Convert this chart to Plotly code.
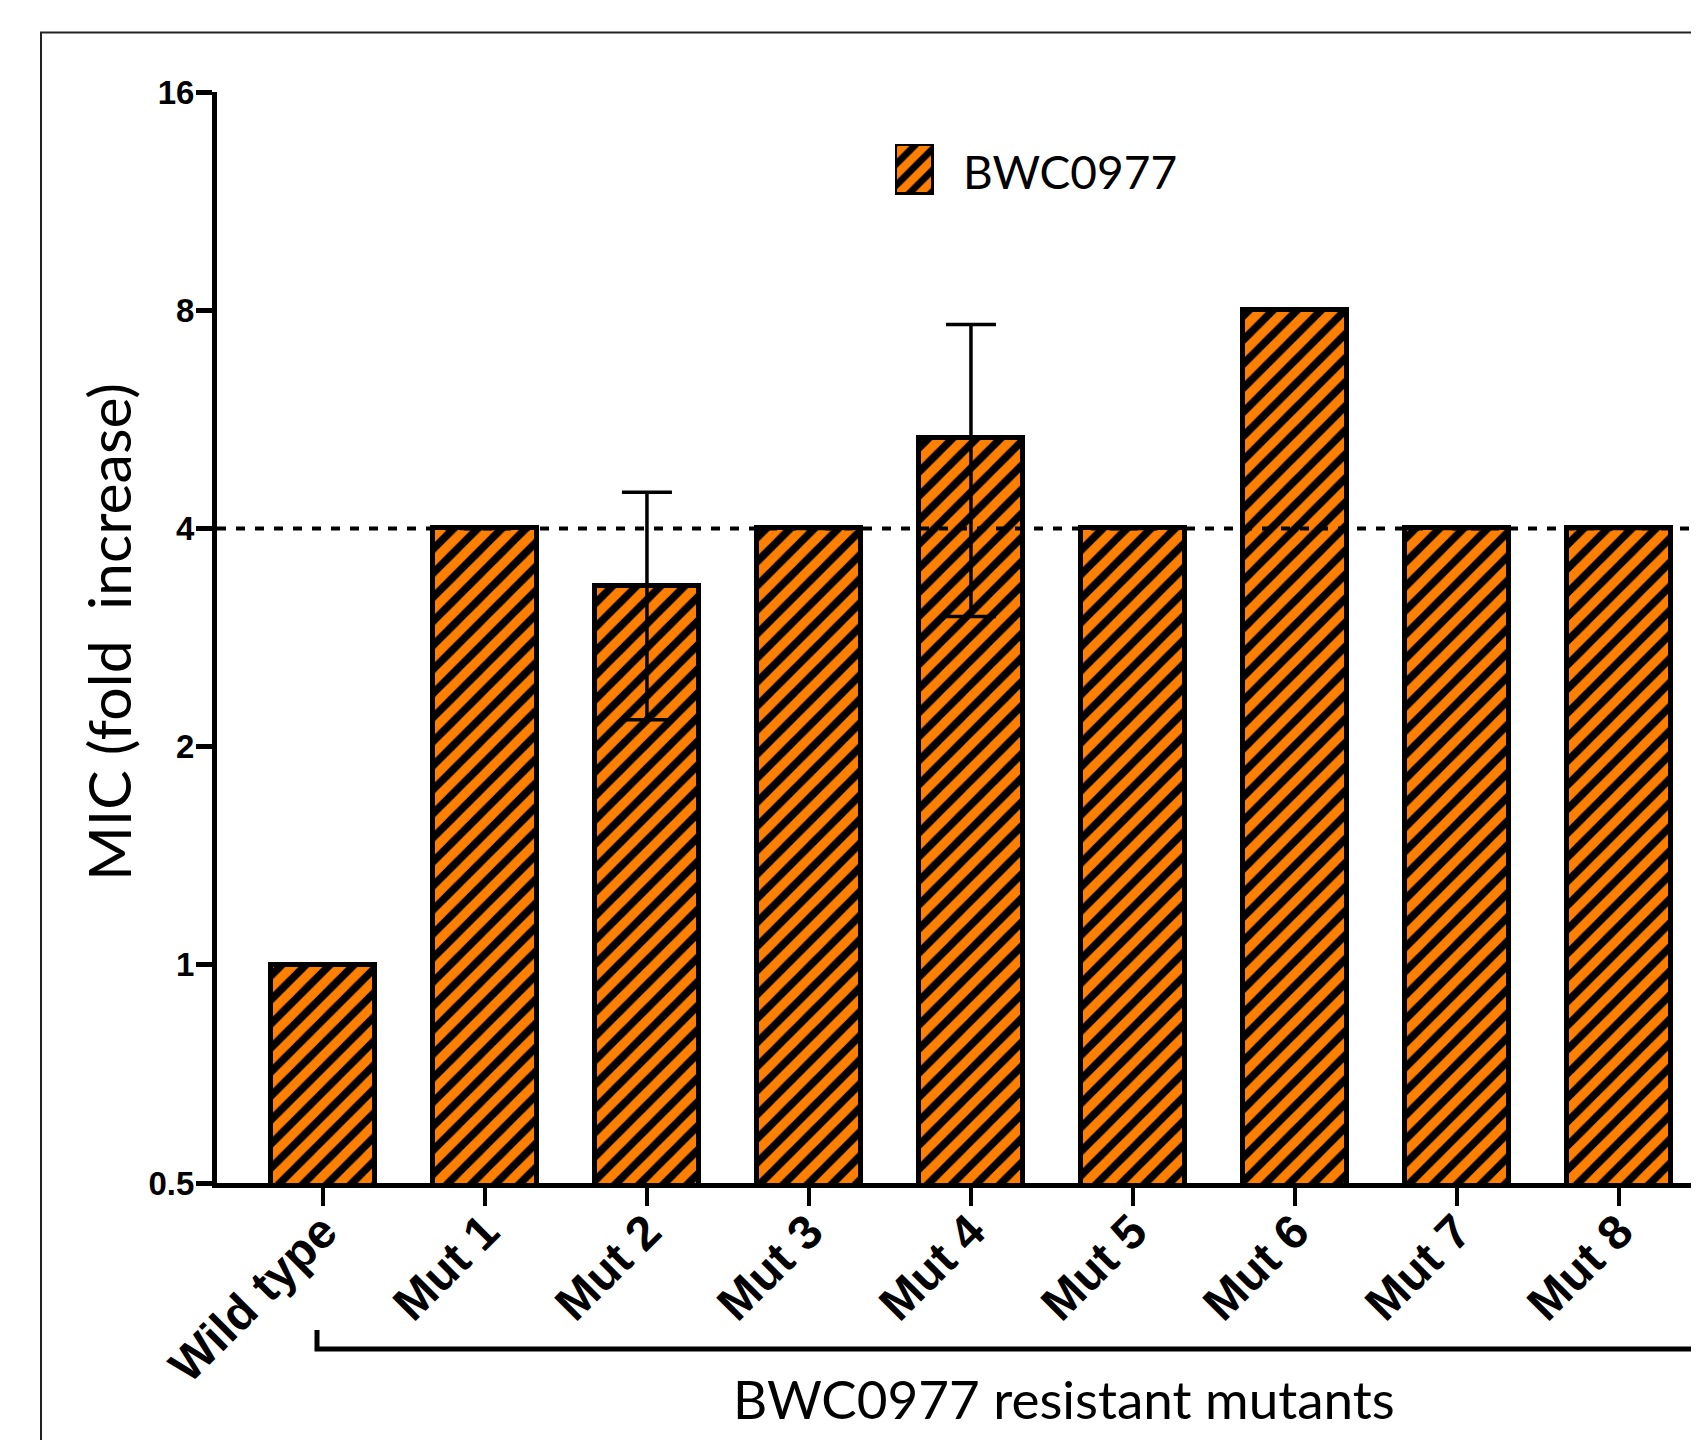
import plotly.graph_objects as go
import math

# ---- data ----
categories = ["Wild type", "Mut 1", "Mut 2", "Mut 3", "Mut 4", "Mut 5", "Mut 6", "Mut 7", "Mut 8"]
mic_fold = [1, 4, 3.333, 4, 5.333, 4, 8, 4, 4]
mic_sd = [0, 0, 1.155, 0, 2.309, 0, 0, 0, 0]
y_tickvals = [0.5, 1, 2, 4, 8, 16]
y_ticktext = ["0.5", "1", "2", "4", "8", "16"]
threshold = 4
series_name = "BWC0977"
group_label = "BWC0977 resistant mutants"
y_title = "MIC (fold\u00a0\u00a0increase)"

ORANGE = "#FF8000"
TICKFONT = "Liberation Sans, Arial, sans-serif"
TEXTFONT = "Lato, Open Sans, sans-serif"

OFF = 8  # page body margin
W, H = 1699 - OFF, 1440 - OFF
# plot area in page pixels
PL, PT, PB = 217, 92, 1183
L, R, T, B = PL - OFF, 0, PT - OFF, (1440 - PB)
pw, ph = W - L - R, H - T - B

def px_x(px):
    return (px - OFF - L) / pw

def px_y(py):
    return (H - B - (py - OFF)) / ph

pattern = dict(shape="/", fgcolor="black", bgcolor=ORANGE, fgopacity=1,
               size=17, solidity=0.45, fillmode="overlay")

fig = go.Figure()
fig.add_trace(go.Bar(
    x=list(range(len(categories))), y=mic_fold, width=0.64,
    marker=dict(color=ORANGE, line=dict(color="black", width=5), pattern=pattern),
    error_y=dict(type="data", array=mic_sd, symmetric=True, color="black",
                 thickness=3.5, width=25),
    showlegend=False,
))

# legend swatch on a small overlay axis
fig.add_trace(go.Bar(
    x=[0], y=[1], width=1, xaxis="x2", yaxis="y2", cliponaxis=False,
    marker=dict(color=ORANGE, line=dict(color="black", width=5),
                pattern=dict(pattern, size=15)),
    showlegend=False, hoverinfo="skip",
))

fig.update_layout(
    width=W, height=H,
    margin=dict(l=L, r=R, t=T, b=B, autoexpand=False),
    plot_bgcolor="white", paper_bgcolor="white",
    showlegend=False,
    bargap=0,
    xaxis=dict(
        range=[-0.654, 8.494], tickmode="array",
        tickvals=list(range(len(categories))), ticktext=categories,
        tickangle=-45, ticks="outside", ticklen=18, tickwidth=4, tickcolor="black",
        ticklabelstandoff=-22,
        showline=True, linewidth=5, linecolor="black", showgrid=False, zeroline=False,
        tickfont=dict(family=TICKFONT, size=48, color="black", weight="bold"),
        automargin=False,
    ),
    yaxis=dict(
        type="log", range=[math.log10(0.5), math.log10(16)],
        tickmode="array", tickvals=y_tickvals, ticktext=y_ticktext,
        ticks="outside", ticklen=16, tickwidth=5, tickcolor="black",
        ticklabelstandoff=-5,
        showline=True, linewidth=5, linecolor="black", showgrid=False, zeroline=False,
        tickfont=dict(family=TICKFONT, size=33, color="black", weight="bold"),
        automargin=False,
    ),
    xaxis2=dict(domain=[px_x(895), px_x(934)], range=[-0.5, 0.5], visible=False,
                anchor="y2", fixedrange=True),
    yaxis2=dict(domain=[px_y(195), px_y(144)], range=[0, 1], visible=False,
                anchor="x2", fixedrange=True),
)

# threshold dashed line
fig.add_shape(type="line", xref="paper", yref="y", x0=0, x1=1, y0=threshold, y1=threshold,
              line=dict(color="black", width=4, dash="9px,10px"), layer="above")

# outer frame
fig.add_shape(type="rect", xref="paper", yref="paper",
              x0=px_x(41), x1=1.2, y0=-0.5, y1=px_y(32.5),
              line=dict(color="#222", width=2), layer="below")

# group bracket
fig.add_shape(type="path", xref="paper", yref="paper",
              path=f"M {px_x(317)} {px_y(1330)} L {px_x(317)} {px_y(1349)} L 1.2 {px_y(1349)}",
              line=dict(color="black", width=5))

fig.add_annotation(text=group_label, xref="paper", yref="paper",
                   x=px_x(1064), y=px_y(1398), showarrow=False,
                   xanchor="center", yanchor="middle",
                   font=dict(family=TEXTFONT, size=53, color="black"))

fig.add_annotation(text=y_title, xref="paper", yref="paper",
                   x=px_x(108), y=px_y(632), showarrow=False, textangle=-90,
                   xanchor="center", yanchor="middle",
                   font=dict(family=TEXTFONT, size=59, color="black"))

fig.add_annotation(text=series_name, xref="paper", yref="paper",
                   x=px_x(961), y=px_y(171), showarrow=False,
                   xanchor="left", yanchor="middle",
                   font=dict(family=TEXTFONT, size=46, color="black"))

fig.write_html("out.html")
